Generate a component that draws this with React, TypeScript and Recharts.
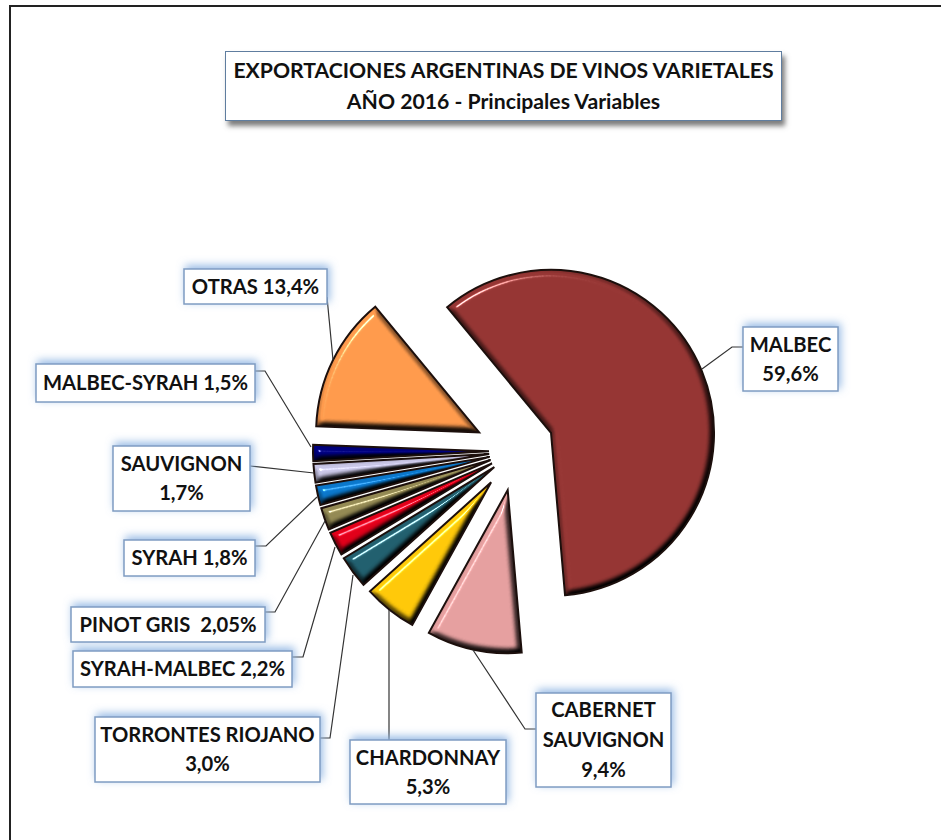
import React from 'react';
import { PieChart, Pie, Sector } from 'recharts';

const names = ['MALBEC', 'CABERNET SAUVIGNON', 'CHARDONNAY', 'TORRONTES RIOJANO', 'SYRAH-MALBEC', 'PINOT GRIS', 'SYRAH', 'SAUVIGNON', 'MALBEC-SYRAH', 'OTRAS'];
const shares = [59.6, 9.4, 5.3, 3.0, 2.2, 2.05, 1.8, 1.7, 1.5, 13.4];
const colors = ['#963634', '#E6A0A0', '#FFC90A', '#22606F', '#E2001A', '#948A54', '#0B78CC', '#C9C6E6', '#00007F', '#FF9B4D'];
// how far each slice is pulled out of the pie
const explode = [40, 40, 40, 27, 27, 27, 27, 27, 27, 40];
// small hand corrections, the source chart is not a perfect circle
const nudgeX = [-2, 0, 0, 0, 0, 0, 0, 0, 0, -1];
const nudgeY = [-3, 0, 0, 0, 0, 0, 0, 0, 0, -1];

const labelLines = [
  ['MALBEC', '59,6%'],
  ['CABERNET', 'SAUVIGNON', '9,4%'],
  ['CHARDONNAY', '5,3%'],
  ['TORRONTES RIOJANO', '3,0%'],
  ['SYRAH-MALBEC 2,2%'],
  ['PINOT GRIS  2,05%'],
  ['SYRAH 1,8%'],
  ['SAUVIGNON', '1,7%'],
  ['MALBEC-SYRAH 1,5%'],
  ['OTRAS 13,4%'],
];

// x, y, width, height of each label box
const labelBoxes = [
  [743, 327, 95, 64],
  [536, 693, 135, 94],
  [350, 740, 156, 64],
  [95, 717, 225, 65],
  [73, 651, 219, 36],
  [71, 607, 194, 35],
  [124, 540, 131, 36],
  [113, 446, 137, 65],
  [36, 364, 219, 38],
  [184, 269, 143, 35],
];

const leaders = [
  '743,347 732,347 702,369',
  '536,729 525,729 473,650',
  '389,740 389,610',
  '320,738 330,738 353,575',
  '292,657 303,657 335,547',
  '265,612 275,612 325,521',
  '255,546 266,546 317,497',
  '250,466 314,473',
  '255,371 265,371 311,447',
  '327,297 333,360',
];

const data = names.map((name, i) => ({ name, value: shares[i], fill: colors[i] }));

const FONT = 'Lato, sans-serif';
const RAD = Math.PI / 180;

const BeveledSlice = (props: any) => {
  const { cx, cy, outerRadius, startAngle, endAngle, payload, name } = props;
  const i = names.indexOf(name ?? payload?.name);
  const d = explode[i];
  const mid = (startAngle + endAngle) / 2;
  const sx = cx + d * Math.cos(mid * RAD) + nudgeX[i];
  const sy = cy - d * Math.sin(mid * RAD) + nudgeY[i];
  const common = { cx: sx, cy: sy, innerRadius: 0, outerRadius: outerRadius - d, startAngle, endAngle };
  return (
    <g>
      <Sector {...common} fill={colors[i]} stroke="none" filter="url(#bevel)" />
      <Sector {...common} fill="none" stroke="#1c0f0c" strokeWidth={2} strokeLinejoin="miter" />
    </g>
  );
};

const renderLabel = (props: any) => {
  const i = names.indexOf(props.name ?? props.payload?.name);
  const [x, y, w, h] = labelBoxes[i];
  const lines = labelLines[i];
  const lineHeight = lines.length === 3 ? 30 : 29;
  const top = y + h / 2 - ((lines.length - 1) * lineHeight) / 2;
  return (
    <g key={names[i]}>
      <polyline points={leaders[i]} fill="none" stroke="#333" strokeWidth={1.2} />
      <rect x={x} y={y} width={w} height={h} fill="#fff" stroke="#7f9cc2" strokeWidth={1.5} filter="url(#glow)" />
      {lines.map((line, k) => (
        <text
          key={k}
          x={x + w / 2}
          y={top + k * lineHeight + 7}
          textAnchor="middle"
          fontFamily={FONT}
          fontWeight={700}
          fontSize={20.2}
          fill="#111"
          style={{ whiteSpace: 'pre' }}
        >
          {line}
        </text>
      ))}
    </g>
  );
};

const App = () => {
  return (
    <div style={{ position: 'absolute', left: 0, top: 0, width: 941, height: 840, background: '#fff', overflow: 'hidden' }}>
      <div style={{ position: 'absolute', left: 9, top: 5, width: 940, height: 860, border: '2px solid #222' }} />
      <PieChart width={941} height={840} margin={{ top: 0, right: 0, bottom: 0, left: 0 }} style={{ position: 'absolute', left: 0, top: 0 }}>
        <defs>
          <filter id="bevel" x="-10%" y="-10%" width="120%" height="120%" colorInterpolationFilters="sRGB">
            <feGaussianBlur in="SourceAlpha" stdDeviation="3" result="height" />
            <feDiffuseLighting in="height" surfaceScale="8" diffuseConstant="1.16" lightingColor="#fff" result="diffuse">
              <feDistantLight azimuth="235" elevation="60" />
            </feDiffuseLighting>
            <feComposite in="diffuse" in2="SourceGraphic" operator="arithmetic" k1="1" k2="0" k3="0" k4="0" result="shaded" />
            <feSpecularLighting in="height" surfaceScale="8" specularConstant="0.8" specularExponent="70" lightingColor="#fff" result="spec">
              <feDistantLight azimuth="235" elevation="40" />
            </feSpecularLighting>
            <feComposite in="spec" in2="SourceAlpha" operator="in" result="specIn" />
            <feComposite in="shaded" in2="specIn" operator="arithmetic" k1="0" k2="1" k3="1" k4="0" result="lit" />
            <feComposite in="lit" in2="SourceAlpha" operator="in" />
          </filter>
          <filter id="glow" x="-20%" y="-50%" width="140%" height="200%">
            <feDropShadow dx="2" dy="-3" stdDeviation="4" floodColor="#8db3e2" floodOpacity="0.9" />
          </filter>
        </defs>
        <Pie
          data={data}
          dataKey="value"
          nameKey="name"
          cx={516}
          cy={451}
          innerRadius={0}
          outerRadius={203}
          startAngle={129.6}
          endAngle={-230.4}
          shape={BeveledSlice}
          label={renderLabel}
          labelLine={false}
          isAnimationActive={false}
        />
      </PieChart>
      <div
        style={{
          position: 'absolute',
          left: 225,
          top: 51,
          width: 555,
          height: 65,
          border: '1.5px solid #5f7d9f',
          background: '#fff',
          boxShadow: '3px 5px 5px rgba(70,70,70,0.7)',
          fontFamily: FONT,
          fontWeight: 700,
          fontSize: 21.2,
          lineHeight: '31px',
          paddingTop: 3,
          boxSizing: 'content-box',
          textAlign: 'center',
          color: '#111',
          whiteSpace: 'nowrap',
        }}
      >
        <div>EXPORTACIONES ARGENTINAS DE VINOS VARIETALES</div>
        <div>AÑO 2016 - Principales Variables</div>
      </div>
    </div>
  );
};

export default App;
